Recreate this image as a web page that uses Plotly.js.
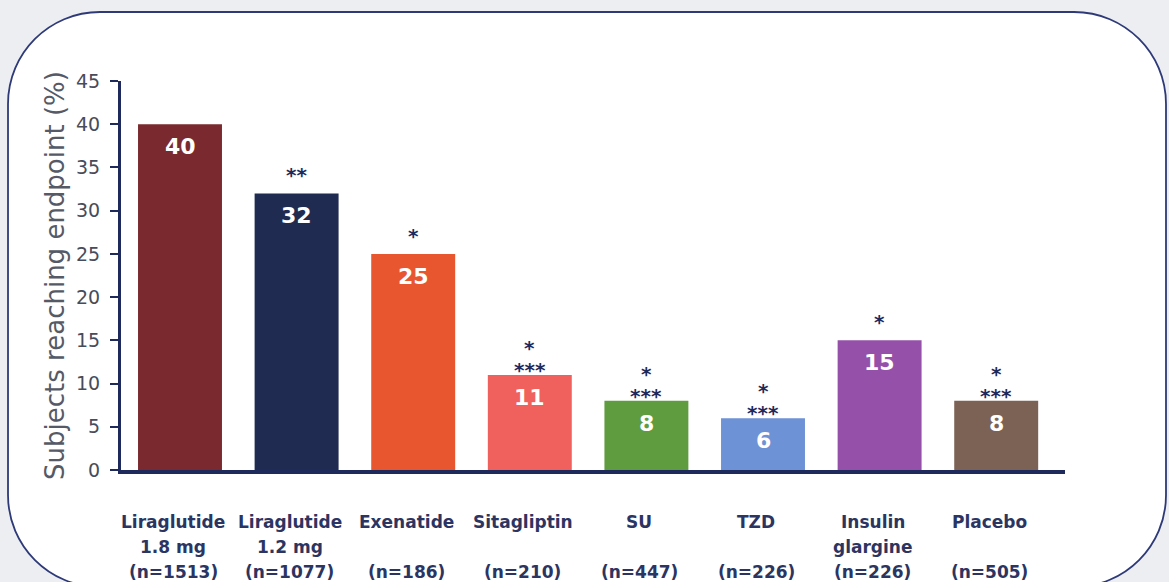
<!DOCTYPE html>
<html>
<head>
<meta charset="utf-8">
<script src="https://cdn.plot.ly/plotly-3.0.1.min.js"></script>
<style>
  html, body { margin: 0; padding: 0; background: #eceef2; }
  #chart { width: 1169px; height: 582px; }
</style>
</head>
<body>
<div id="chart"></div>
<script>
// ---- data ----
const categories = ['Liraglutide 1.8 mg', 'Liraglutide 1.2 mg', 'Exenatide', 'Sitagliptin', 'SU', 'TZD', 'Insulin glargine', 'Placebo'];
const labelLine1 = ['Liraglutide', 'Liraglutide', 'Exenatide', 'Sitagliptin', 'SU', 'TZD', 'Insulin', 'Placebo'];
const labelLine2 = ['1.8 mg', '1.2 mg', '', '', '', '', 'glargine', ''];
const sampleSizes = ['(n=1513)', '(n=1077)', '(n=186)', '(n=210)', '(n=447)', '(n=226)', '(n=226)', '(n=505)'];
const percentReaching = [40, 32, 25, 11, 8, 6, 15, 8];
const significance = ['', '**', '*', '*<br>***', '*<br>***', '*<br>***', '*', '*<br>***'];
const barColors = ['#7a2a2e', '#1f2b50', '#e8562f', '#f0615d', '#5f9c3f', '#6d92d6', '#9551a9', '#7c6254'];
const yTicks = [0, 5, 10, 15, 20, 25, 30, 35, 40, 45];

// ---- geometry helpers (frame decoration) ----
const M = { l: 121, r: 104, t: 81, b: 112 };
const W = 1169, H = 582;
const pw = W - M.l - M.r, ph = H - M.t - M.b;
function P(x, y) { return ((x - M.l) / pw).toFixed(5) + ',' + ((H - M.b - y) / ph).toFixed(5); }
function roundedFrame(x0, y0, x1, y1, R) {
  const k = 0.5523 * R;
  return 'M' + P(x0 + R, y0) +
    ' L' + P(x1 - R, y0) +
    ' C' + P(x1 - R + k, y0) + ' ' + P(x1, y0 + R - k) + ' ' + P(x1, y0 + R) +
    ' L' + P(x1, y1 - R) +
    ' C' + P(x1, y1 - R + k) + ' ' + P(x1 - R + k, y1) + ' ' + P(x1 - R, y1) +
    ' L' + P(x0 + R, y1) +
    ' C' + P(x0 + R - k, y1) + ' ' + P(x0, y1 - R + k) + ' ' + P(x0, y1 - R) +
    ' L' + P(x0, y0 + R) +
    ' C' + P(x0, y0 + R - k) + ' ' + P(x0 + R - k, y0) + ' ' + P(x0 + R, y0) + ' Z';
}

const navy = '#1f2a5c';
const font = 'DejaVu Sans, Verdana, sans-serif';

const annotations = [];
categories.forEach((c, i) => {
  // value inside the bar
  annotations.push({
    x: c, y: percentReaching[i], xref: 'x', yref: 'y',
    text: String(percentReaching[i]), showarrow: false,
    yanchor: 'top', yshift: -8,
    font: { family: font, size: 22, color: '#ffffff', weight: 'bold' }
  });
  // significance markers (one annotation per line, stacked upward)
  if (significance[i]) {
    const lines = significance[i].split('<br>');
    const n = lines.length;
    lines.forEach((t, j) => {
      const fromBottom = n - 1 - j;
      annotations.push({
        x: c, y: percentReaching[i], xref: 'x', yref: 'y',
        text: t, showarrow: false,
        yanchor: 'bottom', yshift: (n > 1 ? -9 : 4) + fromBottom * 22,
        font: { family: font, size: 20, color: navy, weight: 'bold' }
      });
    });
  }
  // category labels (three rows)
  const rows = [labelLine1[i], labelLine2[i], sampleSizes[i]];
  rows.forEach((t, r) => {
    if (!t) return;
    annotations.push({
      x: c, xref: 'x', yref: 'paper',
      y: (H - M.b - (522 + r * 25)) / ph,
      text: t, showarrow: false, yanchor: 'middle', xshift: -7,
      font: { family: font, size: 17, color: '#2c3562', weight: 'bold' }
    });
  });
});

const trace = {
  type: 'bar',
  x: categories,
  y: percentReaching,
  marker: { color: barColors, line: { width: 0 } },
  hoverinfo: 'x+y'
};

const layout = {
  width: W, height: H,
  margin: M,
  paper_bgcolor: '#eceef2',
  plot_bgcolor: 'rgba(0,0,0,0)',
  showlegend: false,
  bargap: 0.28,
  xaxis: {
    type: 'category',
    range: [-0.506, 7.59],
    showticklabels: false,
    ticks: '',
    showgrid: false,
    zeroline: false,
    showline: true, linecolor: navy, linewidth: 4,
    fixedrange: true
  },
  yaxis: {
    range: [0, 45],
    tickvals: yTicks,
    ticktext: yTicks.map(String),
    ticks: 'outside', ticklen: 8, tickwidth: 2, tickcolor: navy,
    ticklabelstandoff: 6,
    tickfont: { family: font, size: 19, color: '#474c5a' },
    showgrid: false,
    zeroline: false,
    showline: true, linecolor: navy, linewidth: 3,
    title: { text: 'Subjects reaching endpoint (%)', standoff: 4,
             font: { family: font, size: 26, color: '#555a66' } },
    fixedrange: true
  },
  shapes: [{
    type: 'path', xref: 'paper', yref: 'paper', layer: 'below',
    path: roundedFrame(8, 12, 1166, 587, 92),
    fillcolor: '#ffffff',
    line: { color: '#2e3a78', width: 1.8 }
  }],
  annotations: annotations
};

Plotly.newPlot('chart', [trace], layout, { displayModeBar: false, staticPlot: true });
</script>
</body>
</html>
